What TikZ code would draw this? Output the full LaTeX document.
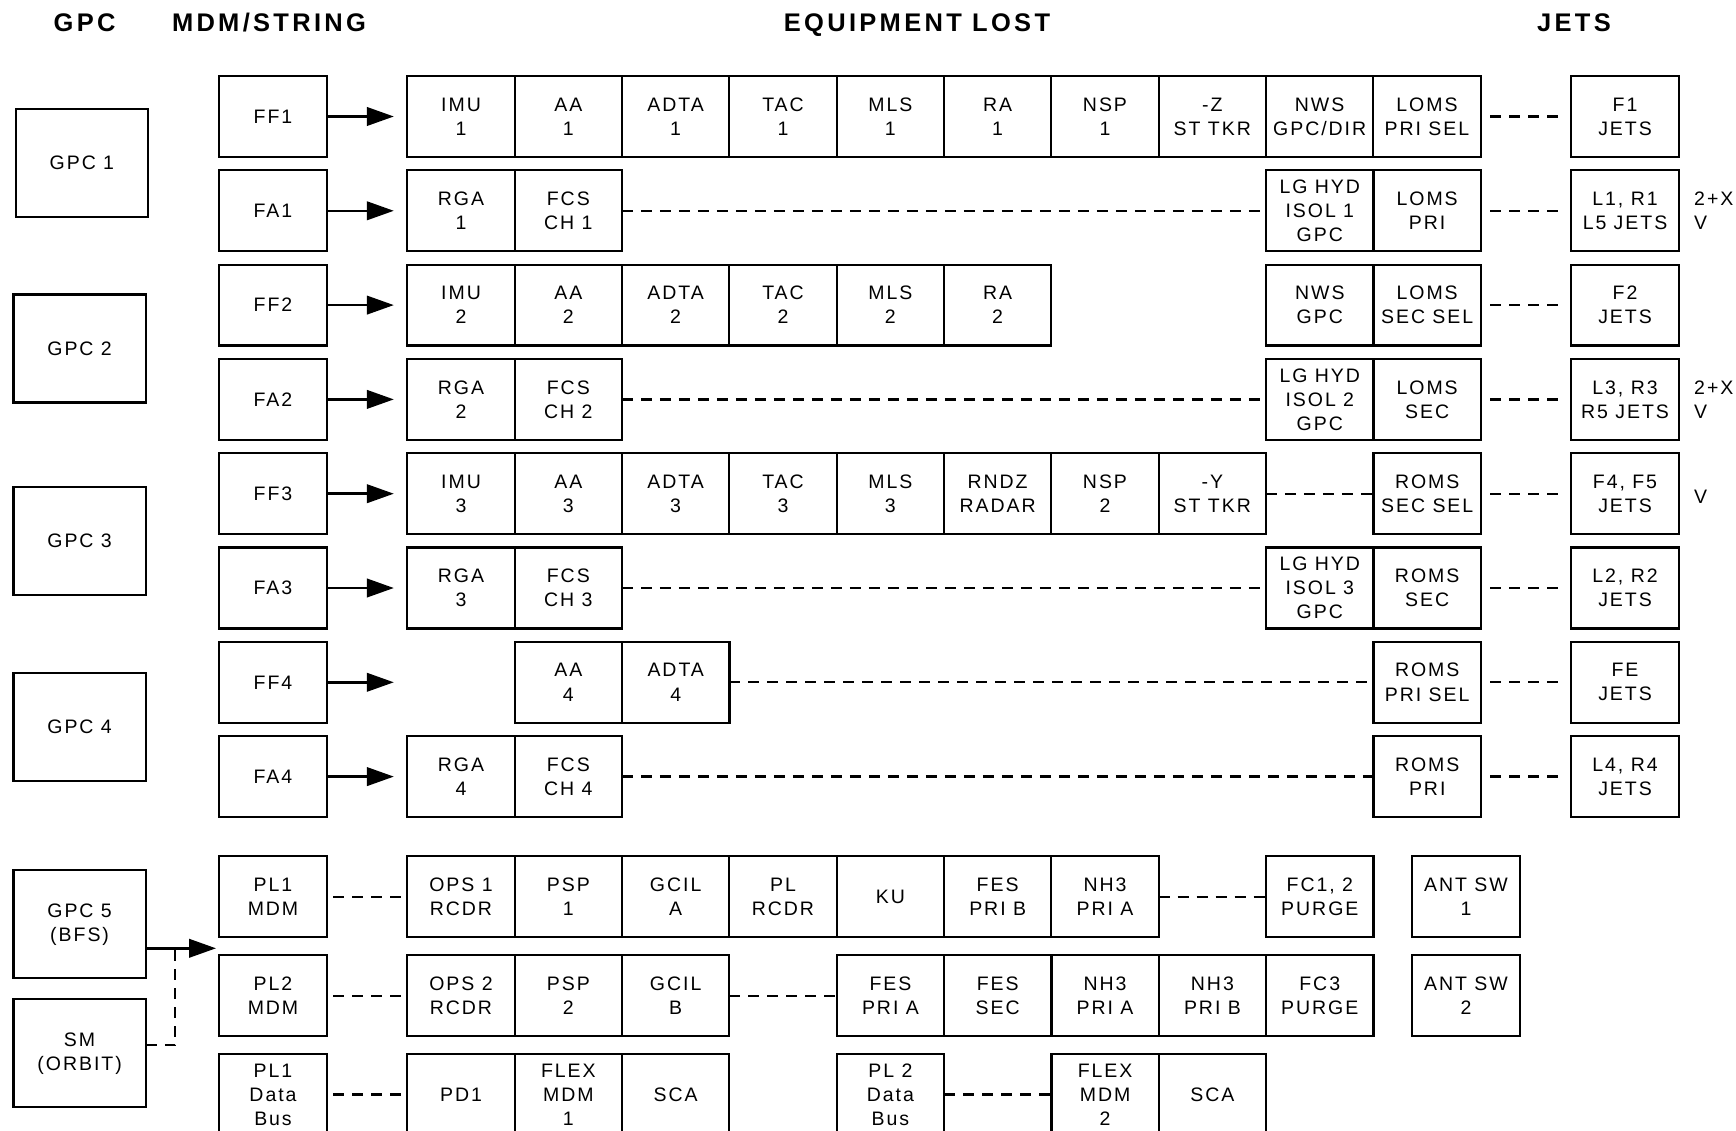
\documentclass[tikz,border=0pt]{standalone}
\usepackage{fontspec}
\setmainfont{Liberation Sans}[LetterSpace=10]
\newfontfamily\headfont{Liberation Sans}[LetterSpace=13]
\usetikzlibrary{arrows.meta,positioning,calc}

\begin{document}
\begin{tikzpicture}[x=0.02cm,y=-0.02cm,
  font=\fontsize{11.1}{13.7}\selectfont,
  box/.style={draw,line width=1.25pt,minimum width=2.147cm,minimum height=1.62cm,inner sep=1pt,outer sep=0pt,align=center},
  gpcbox/.style={box,minimum width=2.648cm,minimum height=2.16cm},
  head/.style={anchor=base,font=\headfont\fontsize{14.5}{17}\selectfont\bfseries},
  feed/.style={line width=1.4pt,-{Triangle[length=0.54cm,width=0.37cm]}},
  mdmfeed/.style={feed,shorten >=0.27cm},
  link/.style={line width=1.35pt,dash pattern=on 0.22cm off 0.16cm},
  jetlink/.style={link,shorten <=0.19cm,shorten >=0.25cm},
  buslink/.style={link,shorten <=0.13cm,shorten >=0.11cm}]
\useasboundingbox (0,0) rectangle (1736,1131);
\clip (0,0) rectangle (1736,1131);

% column titles
\node[head] (hgpc) at (84.6,31.7) {GPC};
\node[head] (hmdm) at (269,31.7) {MDM/STRING};
\node[head] (hequip) at (917,31.7) {EQUIPMENT LOST};
\node[head] (hjets) at (1574,31.7) {JETS};

% computers
\node[gpcbox] (gpc1) at (81.9,162.9) {GPC 1};
\node[gpcbox] (gpc2) at (79.6,348.5) {GPC 2};
\node[gpcbox] (gpc3) at (79.6,541.2) {GPC 3};
\node[gpcbox] (gpc4) at (79.6,727) {GPC 4};
\node[gpcbox] (gpc5) at (79.6,924.3) {GPC 5\\(BFS)};
\node[gpcbox] (sm) at (79.6,1053.3) {SM\\(ORBIT)};

% MDM strings
\node[box] (ff1) at (273,116.5) {FF1};
\node[box] (fa1) at (273,210.8) {FA1};
\node[box] (ff2) at (273,305.1) {FF2};
\node[box] (fa2) at (273,399.4) {FA2};
\node[box] (ff3) at (273,493.7) {FF3};
\node[box] (fa3) at (273,588.0) {FA3};
\node[box] (ff4) at (273,682.3) {FF4};
\node[box] (fa4) at (273,776.6) {FA4};
\node[box] (pl1) at (273,896.8) {PL1\\MDM};
\node[box] (pl2) at (273,995.8) {PL2\\MDM};
\node[box] (plbus1) at (273,1094.5) {PL1\\Data\\Bus};

% FF1
\node[box] (imu1) at (461,116.5) {IMU\\1};
\node[box,right=0pt of imu1] (aa1) {AA\\1};
\node[box,right=0pt of aa1] (adta1) {ADTA\\1};
\node[box,right=0pt of adta1] (tac1) {TAC\\1};
\node[box,right=0pt of tac1] (mls1) {MLS\\1};
\node[box,right=0pt of mls1] (ra1) {RA\\1};
\node[box,right=0pt of ra1] (nsp1) {NSP\\1};
\node[box,right=0pt of nsp1] (ztkr) {-Z\\ST TKR};
\node[box,right=0pt of ztkr] (nwsdir) {NWS\\GPC/DIR};
\node[box,right=0pt of nwsdir] (lomsprisel) {LOMS\\PRI SEL};
\node[box] (jf1) at (1625,116.5) {F1\\JETS};

% FA1
\node[box] (rga1) at (461,210.8) {RGA\\1};
\node[box,right=0pt of rga1] (fcs1) {FCS\\CH 1};
\node[box] (lghyd1) at (1319.8,210.8) {LG HYD\\ISOL 1\\GPC};
\node[box,right=0pt of lghyd1] (lomspri) {LOMS\\PRI};
\node[box] (jl1) at (1625,210.8) {L1, R1\\L5 JETS};
\node[anchor=west,align=left] (axis1) at (1688,210.8) {2+X\\V};

% FF2
\node[box] (imu2) at (461,305.1) {IMU\\2};
\node[box,right=0pt of imu2] (aa2) {AA\\2};
\node[box,right=0pt of aa2] (adta2) {ADTA\\2};
\node[box,right=0pt of adta2] (tac2) {TAC\\2};
\node[box,right=0pt of tac2] (mls2) {MLS\\2};
\node[box,right=0pt of mls2] (ra2) {RA\\2};
\node[box] (nwsgpc) at (1319.8,305.1) {NWS\\GPC};
\node[box,right=0pt of nwsgpc] (lomssecsel) {LOMS\\SEC SEL};
\node[box] (jf2) at (1625,305.1) {F2\\JETS};

% FA2
\node[box] (rga2) at (461,399.4) {RGA\\2};
\node[box,right=0pt of rga2] (fcs2) {FCS\\CH 2};
\node[box] (lghyd2) at (1319.8,399.4) {LG HYD\\ISOL 2\\GPC};
\node[box,right=0pt of lghyd2] (lomssec) {LOMS\\SEC};
\node[box] (jl3) at (1625,399.4) {L3, R3\\R5 JETS};
\node[anchor=west,align=left] (axis3) at (1688,399.4) {2+X\\V};

% FF3
\node[box] (imu3) at (461,493.7) {IMU\\3};
\node[box,right=0pt of imu3] (aa3) {AA\\3};
\node[box,right=0pt of aa3] (adta3) {ADTA\\3};
\node[box,right=0pt of adta3] (tac3) {TAC\\3};
\node[box,right=0pt of tac3] (mls3) {MLS\\3};
\node[box,right=0pt of mls3] (rndz) {RNDZ\\RADAR};
\node[box,right=0pt of rndz] (nsp2) {NSP\\2};
\node[box,right=0pt of nsp2] (ytkr) {-Y\\ST TKR};
\node[box] (romssecsel) at (1427.2,493.7) {ROMS\\SEC SEL};
\node[box] (jf4) at (1625,493.7) {F4, F5\\JETS};
\node[anchor=west] (axis4) at (1688,497) {V};

% FA3
\node[box] (rga3) at (461,588.0) {RGA\\3};
\node[box,right=0pt of rga3] (fcs3) {FCS\\CH 3};
\node[box] (lghyd3) at (1319.8,588.0) {LG HYD\\ISOL 3\\GPC};
\node[box,right=0pt of lghyd3] (romssec) {ROMS\\SEC};
\node[box] (jl2) at (1625,588.0) {L2, R2\\JETS};

% FF4
\coordinate (ff4in) at (407.3,682.3);
\node[box] (aa4) at (568.4,682.3) {AA\\4};
\node[box,right=0pt of aa4] (adta4) {ADTA\\4};
\node[box] (romsprisel) at (1427.2,682.3) {ROMS\\PRI SEL};
\node[box] (jfe) at (1625,682.3) {FE\\JETS};

% FA4
\node[box] (rga4) at (461,776.6) {RGA\\4};
\node[box,right=0pt of rga4] (fcs4) {FCS\\CH 4};
\node[box] (romspri) at (1427.2,776.6) {ROMS\\PRI};
\node[box] (jl4) at (1625,776.6) {L4, R4\\JETS};

% payload MDM 1
\node[box] (ops1) at (461,896.8) {OPS 1\\RCDR};
\node[box,right=0pt of ops1] (psp1) {PSP\\1};
\node[box,right=0pt of psp1] (gcila) {GCIL\\A};
\node[box,right=0pt of gcila] (plrcdr) {PL\\RCDR};
\node[box,right=0pt of plrcdr] (ku) {KU};
\node[box,right=0pt of ku] (fesprib) {FES\\PRI B};
\node[box,right=0pt of fesprib] (nhpria1) {NH3\\PRI A};
\node[box] (fcpurge) at (1319.8,896.8) {FC1, 2\\PURGE};
\node[box] (antsw1) at (1466,896.8) {ANT SW\\1};

% payload MDM 2
\node[box] (ops2) at (461,995.8) {OPS 2\\RCDR};
\node[box,right=0pt of ops2] (psp2) {PSP\\2};
\node[box,right=0pt of psp2] (gcilb) {GCIL\\B};
\node[box] (fespria) at (890.4,995.8) {FES\\PRI A};
\node[box,right=0pt of fespria] (fessec) {FES\\SEC};
\node[box,right=0pt of fessec] (nhpria2) {NH3\\PRI A};
\node[box,right=0pt of nhpria2] (nhprib) {NH3\\PRI B};
\node[box,right=0pt of nhprib] (fc3purge) {FC3\\PURGE};
\node[box] (antsw2) at (1466,995.8) {ANT SW\\2};

% payload data buses
\node[box] (pd1) at (461,1094.5) {PD1};
\node[box,right=0pt of pd1] (flex1) {FLEX\\MDM\\1};
\node[box,right=0pt of flex1] (sca1) {SCA};
\node[box] (plbus2) at (890.4,1094.5) {PL 2\\Data\\Bus};
\node[box] (flex2) at (1105.1,1094.5) {FLEX\\MDM\\2};
\node[box,right=0pt of flex2] (sca2) {SCA};

% string feeds
\draw[mdmfeed] (ff1) -- (imu1);
\draw[mdmfeed] (fa1) -- (rga1);
\draw[mdmfeed] (ff2) -- (imu2);
\draw[mdmfeed] (fa2) -- (rga2);
\draw[mdmfeed] (ff3) -- (imu3);
\draw[mdmfeed] (fa3) -- (rga3);
\draw[mdmfeed] (ff4) -- (ff4in);
\draw[mdmfeed] (fa4) -- (rga4);

% BFS / SM feed
\coordinate (bfsin) at (216,948.3);
\coordinate (smjoin) at (175,948.3);
\draw[feed] (gpc5.east |- bfsin) -- (bfsin);
\draw[link] ($(sm.east)+(0,-8)$) -| (smjoin);

% dashed links
\draw[link] (fcs1) -- (lghyd1);
\draw[link] (fcs2) -- (lghyd2);
\draw[link] (ytkr) -- (romssecsel);
\draw[link] (fcs3) -- (lghyd3);
\draw[link] (adta4) -- (romsprisel);
\draw[link] (fcs4) -- (romspri);
\draw[link] (nhpria1) -- (fcpurge);
\draw[link] (gcilb) -- (fespria);
\draw[link] (plbus2) -- (flex2);

\draw[jetlink] (lomsprisel) -- (jf1);
\draw[jetlink] (lomspri) -- (jl1);
\draw[jetlink] (lomssecsel) -- (jf2);
\draw[jetlink] (lomssec) -- (jl3);
\draw[jetlink] (romssecsel) -- (jf4);
\draw[jetlink] (romssec) -- (jl2);
\draw[jetlink] (romsprisel) -- (jfe);
\draw[jetlink] (romspri) -- (jl4);

\draw[buslink] (pl1) -- (ops1);
\draw[buslink] (pl2) -- (ops2);
\draw[buslink] (plbus1) -- (pd1);
\end{tikzpicture}
\end{document}
